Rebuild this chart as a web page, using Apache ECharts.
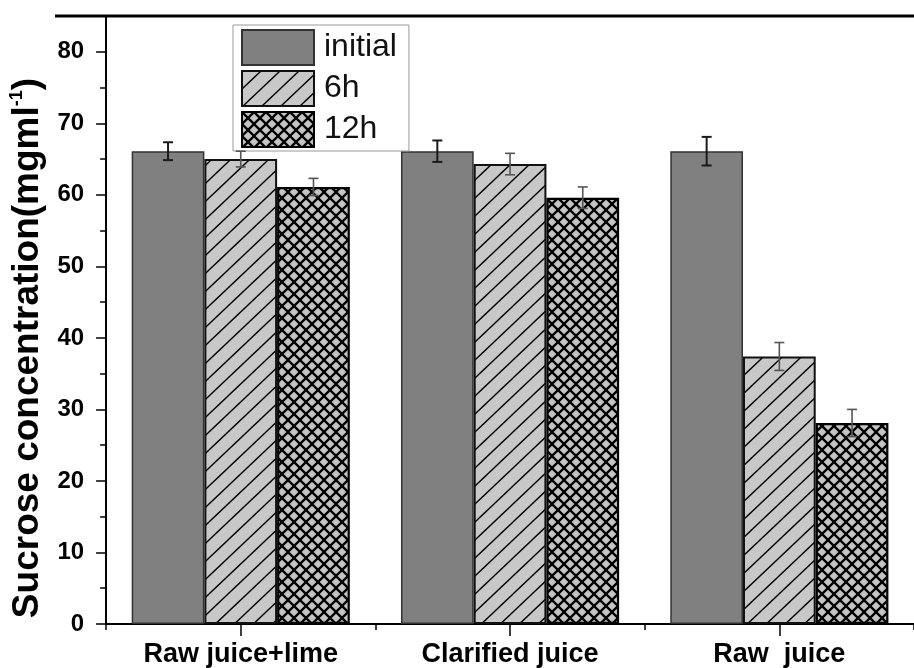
<!DOCTYPE html>
<html><head><meta charset="utf-8">
<script src="https://cdn.jsdelivr.net/npm/echarts@6/dist/echarts.min.js"></script>
<style>html,body{margin:0;padding:0;background:#fff}#c{width:914px;height:668px}</style>
</head><body><div id="c"></div>
<script>
const categories = ['Raw juice+lime', 'Clarified juice', 'Raw  juice'];
const seriesNames = ['initial', '6h', '12h'];
const initialValues = [66.1, 66.1, 66.1];
const h6Values = [65.0, 64.3, 37.4];
const h12Values = [61.1, 59.6, 28.1];
const initialErr = [1.25, 1.5, 2.0];
const h6Err = [1.1, 1.5, 1.95];
const h12Err = [1.2, 1.5, 1.9];
const yMin = 0, yMax = 85, yMajor = 10, yMinor = 5;

const FONT = '"Liberation Sans", Arial, sans-serif';

function makePattern(w, h, bg, lw, diag1, diag2) {
  const c = document.createElement('canvas');
  c.width = w; c.height = h;
  const ctx = c.getContext('2d');
  ctx.fillStyle = bg; ctx.fillRect(0, 0, w, h);
  ctx.strokeStyle = '#000'; ctx.lineWidth = lw; ctx.lineCap = 'butt';
  const seg = (a, b, c2, d) => { ctx.beginPath(); ctx.moveTo(a, b); ctx.lineTo(c2, d); ctx.stroke(); };
  if (diag1) { // "/" lines
    seg(0, h, w, 0); seg(-w, h, w, -h); seg(0, 2 * h, 2 * w, 0);
  }
  if (diag2) { // "\" lines
    seg(0, 0, w, h); seg(0, -h, 2 * w, h); seg(-w, 0, w, 2 * h);
  }
  return c;
}
const hatchCanvas = makePattern(19, 18, '#c8c8c8', 1.4, true, false);
const crossCanvas = makePattern(12, 12, '#c4c4c4', 2.3, true, true);

const valueSets = [initialValues, h6Values, h12Values];
const errSets = [initialErr, h6Err, h12Err];
const fills = [
  '#808080',
  { image: hatchCanvas, repeat: 'repeat' },
  { image: crossCanvas, repeat: 'repeat' }
];
const borders = [{ c: '#333', w: 1.5 }, { c: '#111', w: 2 }, { c: '#000', w: 2.2 }];
const errStyles = [{ c: '#1a1a1a', w: 2 }, { c: '#555', w: 1.6 }, { c: '#555', w: 1.6 }];
const CAT_GAP = 0.19;

const barSeries = seriesNames.map((name, i) => ({
  name, type: 'bar', xAxisIndex: 0, yAxisIndex: 0,
  data: valueSets[i],
  barGap: '0%', barCategoryGap: (CAT_GAP * 100) + '%',
  itemStyle: { color: fills[i], borderColor: borders[i].c, borderWidth: borders[i].w },
  emphasis: { disabled: true },
  z: 2
}));

const errData = [];
seriesNames.forEach((n, si) => {
  categories.forEach((cat, ci) => {
    errData.push([ci, valueSets[si][ci], errSets[si][ci], si]);
  });
});

const errSeries = {
  type: 'custom', xAxisIndex: 0, yAxisIndex: 0, z: 5,
  data: errData,
  encode: { x: 0, y: 1 },
  renderItem(params, api) {
    const ci = api.value(0), m = api.value(1), e = api.value(2), si = api.value(3);
    const catW = api.size([1, 0])[0];
    const bw = catW * (1 - CAT_GAP) / 3;
    const pHi = api.coord([ci, m + e]);
    const pLo = api.coord([ci, m - e]);
    const x = pHi[0] + (si - 1) * bw;
    const cap = 5;
    const st = { stroke: errStyles[si].c, lineWidth: errStyles[si].w };
    return {
      type: 'group', children: [
        { type: 'line', shape: { x1: x, y1: pHi[1], x2: x, y2: pLo[1] }, style: st },
        { type: 'line', shape: { x1: x - cap, y1: pHi[1], x2: x + cap, y2: pHi[1] }, style: st },
        { type: 'line', shape: { x1: x - cap, y1: pLo[1], x2: x + cap, y2: pLo[1] }, style: st }
      ]
    };
  }
};

const chart = echarts.init(document.getElementById('c'), null, { renderer: 'canvas' });
chart.setOption({
  animation: false,
  backgroundColor: '#fff',
  grid: { left: 103, right: -10, top: 16, bottom: 44, containLabel: false },
  legend: {
    data: seriesNames, orient: 'vertical', left: 233, top: 25,
    itemWidth: 72, itemHeight: 35, itemGap: 4,
    padding: [4, 12, 3, 8],
    borderColor: '#999', borderWidth: 1,
    icon: 'rect',
    selectedMode: false,
    textStyle: { fontFamily: FONT, fontSize: 32, color: '#111', padding: [0, 0, 0, 5] }
  },
  xAxis: [{
    type: 'category', data: categories, position: 'bottom',
    axisLine: { show: true, lineStyle: { color: '#000', width: 2 } },
    axisTick: { show: true, alignWithLabel: true, length: 12, lineStyle: { color: '#000', width: 1.5 } },
    axisLabel: { fontFamily: FONT, fontSize: 27, fontWeight: 'bold', color: '#000', margin: 17 },
    splitLine: { show: false }
  }, {
    type: 'category', data: categories, position: 'bottom',
    axisLine: { show: false },
    axisTick: { show: true, alignWithLabel: false, length: 6, lineStyle: { color: '#000', width: 1.5 } },
    axisLabel: { show: false },
    splitLine: { show: false }
  }],
  yAxis: [{
    type: 'value', min: yMin, max: yMax, interval: yMinor, position: 'left',
    name: '{a|Sucrose concentration(mgml}{s|-1}{a|)}',
    nameLocation: 'middle', nameGap: 58,
    nameTextStyle: {
      padding: [0, 56, 0, 0],
      rich: {
        a: { fontFamily: FONT, fontSize: 37, fontWeight: 'bold', color: '#000', lineHeight: 40 },
        s: { fontFamily: FONT, fontSize: 18, fontWeight: 'bold', color: '#000', verticalAlign: 'top', lineHeight: 40 }
      }
    },
    axisLine: { show: true, lineStyle: { color: '#000', width: 2 } },
    axisTick: { show: true, length: 6, lineStyle: { color: '#000', width: 1.5 } },
    axisLabel: {
      fontFamily: FONT, fontSize: 24, fontWeight: 'bold', color: '#000', margin: 22,
      formatter: v => (v % yMajor === 0 ? String(v) : '')
    },
    splitLine: { show: false }
  }, {
    type: 'value', min: yMin, max: yMax, interval: yMajor, position: 'left',
    axisLine: { show: false },
    axisTick: { show: true, length: 10, lineStyle: { color: '#000', width: 1.5 } },
    axisLabel: { show: false },
    splitLine: { show: false }
  }],
  graphic: [{
    type: 'line', shape: { x1: 55, y1: 16, x2: 914, y2: 16 },
    style: { stroke: '#000', lineWidth: 3 }, z: 100
  }],
  series: [...barSeries, errSeries]
});
</script></body></html>
